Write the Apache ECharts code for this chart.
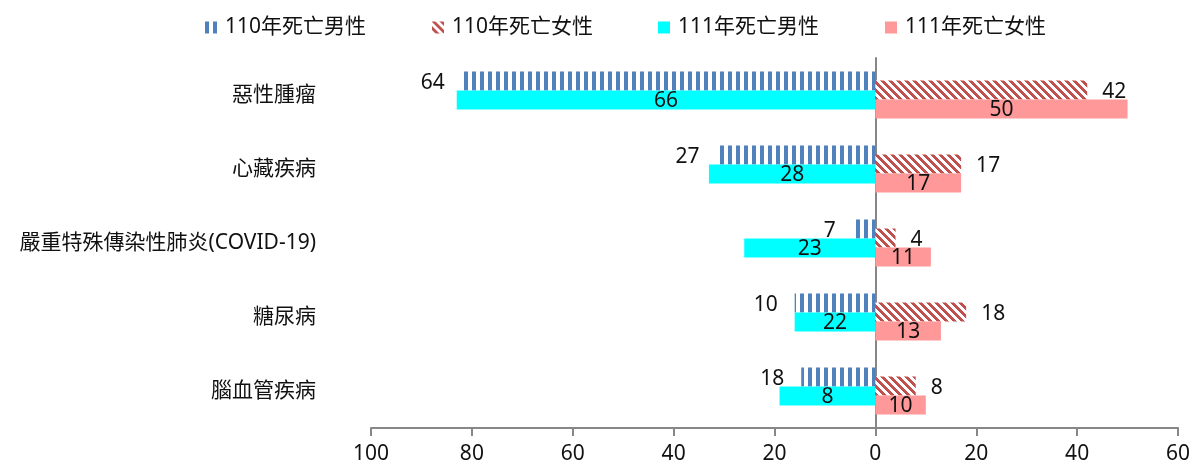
<!DOCTYPE html>
<html>
<head>
<meta charset="utf-8">
<script src="https://cdn.jsdelivr.net/npm/echarts@6/dist/echarts.min.js"></script>
<style>
html,body{margin:0;padding:0;background:#fff;}
#chart{width:1199px;height:468px;}
</style>
</head>
<body>
<div id="chart"></div>
<script>
// ---- data ----
const categories = ['惡性腫瘤', '心藏疾病', '嚴重特殊傳染性肺炎(COVID-19)', '糖尿病', '腦血管疾病'];
const seriesNames = ['110年死亡男性', '110年死亡女性', '111年死亡男性', '111年死亡女性'];
// bar lengths as drawn (male bars point left)
const male110Bars = [82, 31.5, 4.5, 16, 14.7];
const male111Bars = [83, 33, 26, 16, 19];
const female110Bars = [42, 17, 4, 18, 8];
const female111Bars = [50, 17, 11, 13, 10];
// data labels as printed
const male110Labels = [64, 27, 7, 10, 18];
const male111Labels = [66, 28, 23, 22, 8];
const female110Labels = [42, 17, 4, 18, 8];
const female111Labels = [50, 17, 11, 13, 10];
const xMin = -100, xMax = 60, xStep = 20;

// ---- patterns ----
function stripePattern() {
  const c = document.createElement('canvas');
  c.width = 8; c.height = 8;
  const g = c.getContext('2d');
  g.fillStyle = '#ffffff'; g.fillRect(0, 0, 8, 8);
  g.fillStyle = '#4F81BD'; g.fillRect(0, 0, 4, 8);
  return c;
}
function hatchPattern() {
  const n = 8;
  const c = document.createElement('canvas');
  c.width = n; c.height = n;
  const g = c.getContext('2d');
  const img = g.createImageData(n, n);
  for (let y = 0; y < n; y++) {
    for (let x = 0; x < n; x++) {
      const i = (y * n + x) * 4;
      const red = (((x - y) % n) + n) % n < 4;
      img.data[i] = red ? 192 : 255;
      img.data[i + 1] = red ? 80 : 255;
      img.data[i + 2] = red ? 77 : 255;
      img.data[i + 3] = 255;
    }
  }
  g.putImageData(img, 0, 0);
  return c;
}
const stripeColor = { image: stripePattern(), repeat: 'repeat' };
const hatchColor = { image: hatchPattern(), repeat: 'repeat' };

const FONT = '"Noto Sans", "Noto Sans CJK TC", sans-serif';
const FS = 21;
const TXT = '#111';
const AXC = '#878787';

const chart = echarts.init(document.getElementById('chart'));

const hiddenX = (gi) => ({ type: 'value', gridIndex: gi, min: xMin, max: xMax, interval: xStep, show: false });
const hiddenY = (gi) => ({ type: 'category', gridIndex: gi, data: categories, inverse: true, show: false });

function lbl(arr, position, distance, offset) {
  return {
    show: true, position: position, distance: distance, offset: offset || [0, 0],
    color: TXT, fontFamily: FONT, fontSize: FS,
    formatter: p => String(arr[p.dataIndex])
  };
}

const legendLefts = [200, 427, 653, 880];
const option = {
  animation: false,
  backgroundColor: '#fff',
  textStyle: { fontFamily: FONT },
  legend: seriesNames.map((n, i) => ({
    data: [n], left: legendLefts[i], top: 12,
    icon: 'rect', itemWidth: 12, itemHeight: 12,
    selectedMode: false,
    textStyle: { fontFamily: FONT, fontSize: FS, color: TXT, padding: [0, 0, 0, 3] }
  })),
  grid: [
    { left: 371, right: 21, top: 58, height: 370 },      // axes
    { left: 371, right: 21, top: 53.5, height: 370 },    // male bars
    { left: 371, right: 21, top: 62.5, height: 370 }     // female bars
  ],
  xAxis: [
    {
      type: 'value', gridIndex: 0, min: xMin, max: xMax, interval: xStep,
      axisLine: { show: true, lineStyle: { color: AXC, width: 2 } },
      axisTick: { show: true, length: 8, lineStyle: { color: AXC, width: 2 } },
      splitLine: { show: false },
      axisLabel: { margin: 16, color: TXT, fontFamily: FONT, fontSize: FS, formatter: v => String(Math.abs(v)) }
    },
    hiddenX(1), hiddenX(2)
  ],
  yAxis: [
    {
      type: 'category', gridIndex: 0, data: categories, inverse: true, position: 'left',
      axisLine: { show: false, onZero: false }, axisTick: { show: false },
      axisLabel: { margin: 55, color: TXT, fontFamily: FONT, fontSize: FS }
    },
    {
      type: 'category', gridIndex: 0, data: categories, inverse: true, position: 'left',
      axisLine: { show: true, onZero: true, lineStyle: { color: AXC, width: 2 } },
      axisTick: { show: false }, axisLabel: { show: false }
    },
    hiddenY(1), hiddenY(2)
  ],
  series: [
    {
      name: seriesNames[0], type: 'bar', xAxisIndex: 1, yAxisIndex: 2,
      data: male110Bars.map(v => -v), barWidth: 19, barGap: '0%',
      itemStyle: { color: stripeColor },
      label: lbl(male110Labels, 'left', 17, [0, 2])
    },
    {
      name: seriesNames[2], type: 'bar', xAxisIndex: 1, yAxisIndex: 2,
      data: male111Bars.map(v => -v), barWidth: 19, barGap: '0%',
      itemStyle: { color: '#00FFFF' },
      label: lbl(male111Labels, 'inside', 0, [0, 1])
    },
    {
      name: seriesNames[1], type: 'bar', xAxisIndex: 2, yAxisIndex: 3,
      data: female110Bars, barWidth: 19, barGap: '0%',
      itemStyle: { color: hatchColor },
      label: lbl(female110Labels, 'right', 15, [0, 2])
    },
    {
      name: seriesNames[3], type: 'bar', xAxisIndex: 2, yAxisIndex: 3,
      data: female111Bars, barWidth: 19, barGap: '0%',
      itemStyle: { color: '#FF9999' },
      label: lbl(female111Labels, 'inside', 0, [0, 1])
    }
  ]
};
chart.setOption(option);
</script>
</body>
</html>
